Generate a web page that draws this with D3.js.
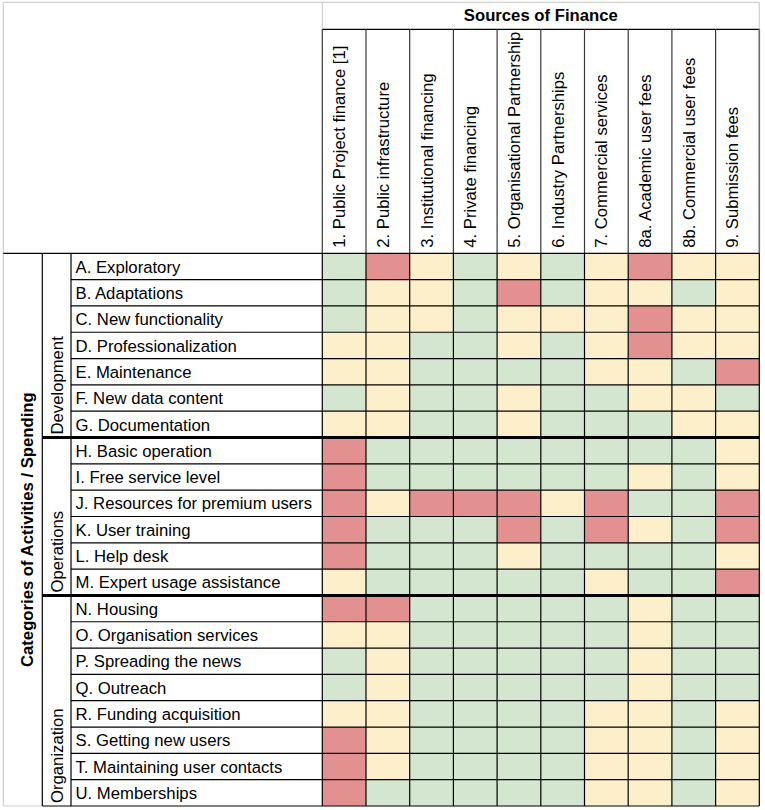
<!DOCTYPE html>
<html>
<head>
<meta charset="utf-8">
<script src="https://cdn.jsdelivr.net/npm/d3@7"></script>
<style>
  body { margin: 0; background: #fff; }
  text { font-family: "Liberation Sans", Arial, sans-serif; fill: #000; }
</style>
</head>
<body>
<div id="chart"></div>
<script>
// Columns: sources of finance
const sources = [
    "1. Public Project finance [1]",
    "2. Public infrastructure",
    "3. Institutional financing",
    "4. Private financing",
    "5. Organisational Partnership",
    "6. Industry Partnerships",
    "7. Commercial services",
    "8a. Academic user fees",
    "8b. Commercial user fees",
    "9. Submission fees"
];

// Rows: activities and the group each belongs to
const groups = ["Development", "Operations", "Organization"];
const activities = [
    "A. Exploratory", "B. Adaptations", "C. New functionality", "D. Professionalization",
    "E. Maintenance", "F. New data content", "G. Documentation",
    "H. Basic operation", "I. Free service level", "J. Resources for premium users",
    "K. User training", "L. Help desk", "M. Expert usage assistance",
    "N. Housing", "O. Organisation services", "P. Spreading the news", "Q. Outreach",
    "R. Funding acquisition", "S. Getting new users", "T. Maintaining user contacts", "U. Memberships"
];
const activityGroup = [
    "Development", "Development", "Development", "Development", "Development", "Development", "Development",
    "Operations", "Operations", "Operations", "Operations", "Operations", "Operations",
    "Organization", "Organization", "Organization", "Organization", "Organization", "Organization", "Organization", "Organization"
];

// Rating per cell, one letter per source: g = suitable, y = partly, r = not suitable
const ratings = [
    "grygygyryy",
    "gyygrgyygy",
    "gyygyyyryy",
    "yyggygyryy",
    "yyggggyygr",
    "gyggyggyyg",
    "yyggygggyy",
    "rggggggggy",
    "rggggggygy",
    "ryrrryrggr",
    "rgggrgrygr",
    "rgggyggggy",
    "ygggggyggr",
    "rrgggggygg",
    "yygggggygg",
    "gygggggygg",
    "gygggggygg",
    "yyggggyygy",
    "ryggggyygy",
    "ryggggyygy",
    "rgggggyygy"
];

const ratingLevels = ["g", "y", "r"];
const ratingColors = ["#d5e6d0", "#fdefc9", "#e39090"];

// Set up the page
const width = 765, height = 810;
const gridLeft = 322.3, gridRight = 759.3, headTop = 29.3, gridTop = 253.3, gridBottom = 806;
const outerLeft = 3.3, outerTop = 2.3, groupLeft = 42.3, labelLeft = 71;
const fontSize = "16.7px";
const grey = "#d0d0d0";

const svg = d3.select("#chart")
    .append("svg")
    .attr("width", width)
    .attr("height", height);

// Scales
const x = d3.scaleBand().domain(sources).range([gridLeft, gridRight]);
const y = d3.scaleBand().domain(activities).range([gridTop, gridBottom]);
const color = d3.scaleOrdinal().domain(ratingLevels).range(ratingColors);

// Cells
const cells = [];
activities.forEach((a, i) => {
    sources.forEach((s, j) => cells.push({ activity: a, source: s, rating: ratings[i][j] }));
});

svg.append("g")
    .selectAll("rect")
    .data(cells)
    .enter()
    .append("rect")
    .attr("x", d => x(d.source))
    .attr("y", d => y(d.activity))
    .attr("width", x.bandwidth())
    .attr("height", y.bandwidth())
    .attr("fill", d => color(d.rating));

// Group extents from the row scale
const groupInfo = groups.map(g => {
    const rows = activities.filter((a, i) => activityGroup[i] === g);
    return { name: g, top: y(rows[0]), bottom: y(rows[rows.length - 1]) + y.bandwidth() };
});

// Lines helper
function line(x1, y1, x2, y2, stroke, w) {
    svg.append("line")
        .attr("x1", x1).attr("y1", y1).attr("x2", x2).attr("y2", y2)
        .attr("stroke", stroke)
        .attr("stroke-width", w || 1.2);
}

// light grey spreadsheet outline
line(outerLeft, outerTop, gridRight, outerTop, grey);
line(outerLeft, outerTop, outerLeft, gridBottom, grey);
line(gridLeft, outerTop, gridLeft, headTop, grey);
line(gridRight, outerTop, gridRight, headTop, grey);
line(outerLeft, gridBottom, groupLeft, gridBottom, grey);

// header box
line(gridLeft, headTop, gridRight, headTop, "#000");
x.domain().forEach(s => line(x(s), headTop, x(s), gridTop, "#3a3a3a"));
line(gridRight, headTop, gridRight, gridTop, "#6a6a6a", 1.6);

// row lines inside each group
activities.forEach((a, i) => {
    if (i > 0 && activityGroup[i] === activityGroup[i - 1]) {
        line(labelLeft, y(a), gridRight, y(a), "#000");
    }
});

// group separators
line(outerLeft, gridTop, gridRight, gridTop, "#000");
groupInfo.slice(1).forEach(g => line(groupLeft, g.top, gridRight, g.top, "#000", 3));
line(groupLeft, gridBottom, gridRight, gridBottom, "#000");

// verticals in body
line(groupLeft, gridTop, groupLeft, gridBottom, "#000");
line(labelLeft, gridTop, labelLeft, gridBottom, "#000");
x.domain().forEach(s => line(x(s), gridTop, x(s), gridBottom, "#000"));
line(gridRight, gridTop, gridRight, gridBottom, "#000");

// Title
svg.append("text")
    .attr("x", (gridLeft + gridRight) / 2)
    .attr("y", 20.7)
    .attr("text-anchor", "middle")
    .style("font-size", fontSize)
    .style("font-weight", "bold")
    .text("Sources of Finance");

// Column labels (rotated)
svg.selectAll(".col-label")
    .data(sources)
    .enter()
    .append("text")
    .attr("class", "col-label")
    .attr("transform", d => "translate(" + (x(d) + 22.8) + "," + (gridTop - 5.5) + ") rotate(-90)")
    .style("font-size", fontSize)
    .text(d => d);

// Row labels
svg.selectAll(".row-label")
    .data(activities)
    .enter()
    .append("text")
    .attr("class", "row-label")
    .attr("x", labelLeft + 4.5)
    .attr("y", d => y(d) + 19.3)
    .style("font-size", fontSize)
    .text(d => d);

// Group labels, bottom aligned
svg.selectAll(".group-label")
    .data(groupInfo)
    .enter()
    .append("text")
    .attr("class", "group-label")
    .attr("transform", d => "translate(" + 63.3 + "," + (d.bottom - 3) + ") rotate(-90)")
    .style("font-size", fontSize)
    .text(d => d.name);

// Side title
svg.append("text")
    .attr("transform", "translate(33.3," + ((gridTop + gridBottom) / 2) + ") rotate(-90)")
    .attr("text-anchor", "middle")
    .style("font-size", fontSize)
    .style("font-weight", "bold")
    .text("Categories of Activities / Spending");
</script>
</body>
</html>
